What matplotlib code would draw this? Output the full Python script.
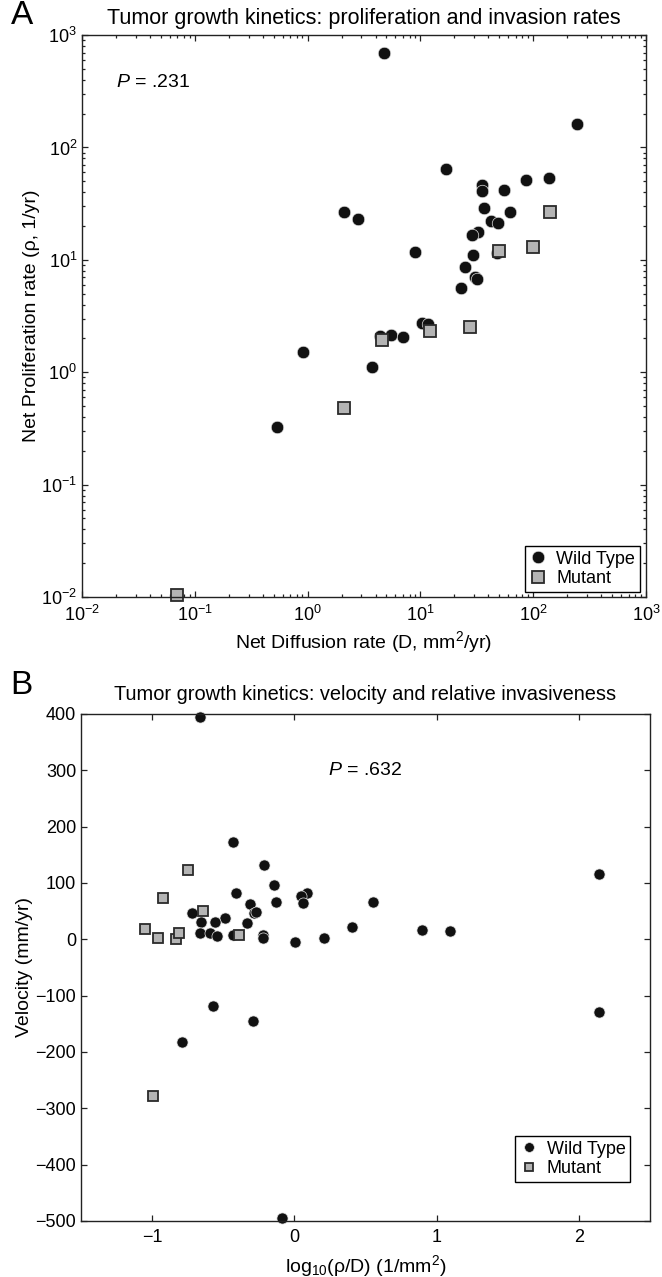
import matplotlib
matplotlib.use("Agg")
import matplotlib.pyplot as plt
from matplotlib.lines import Line2D

plt.rcParams['font.family'] = ['Liberation Sans', 'DejaVu Sans']
plt.rcParams['mathtext.fontset'] = 'custom'
plt.rcParams['mathtext.rm'] = 'Liberation Sans'
plt.rcParams['mathtext.it'] = 'Liberation Sans:italic'
plt.rcParams['axes.unicode_minus'] = True

# Panel A: net diffusion (D, mm^2/yr) vs net proliferation (rho, 1/yr)
wt_D = [244, 4.75, 16.7, 35.4, 35.4, 55.5, 85.7, 137, 2.09, 2.78, 36.6, 62.6,
        42.3, 48.4, 32.6, 28.8, 9.0, 29.2, 47.4, 24.8, 30.7, 31.5, 22.9, 10.3,
        11.7, 4.36, 5.48, 7.05, 0.91, 3.75, 0.54]
wt_rho = [161, 687, 63.8, 46.6, 41.2, 41.5, 50.9, 53.8, 26.8, 22.9, 29.1, 26.5,
          22.0, 21.2, 17.8, 16.5, 11.7, 11.1, 11.4, 8.7, 6.98, 6.7, 5.65, 2.76,
          2.67, 2.10, 2.13, 2.05, 1.52, 1.12, 0.324]
mut_D = [141, 99, 50.1, 27.4, 12.1, 4.57, 2.10, 0.069]
mut_rho = [26.6, 13.0, 12.0, 2.54, 2.33, 1.93, 0.48, 0.0105]

# Panel B: log10(rho/D) vs velocity (mm/yr)
wt_ratio = [-0.43, -0.216, -0.146, -0.413, 0.09, 0.046, 0.06, 0.554, -0.128,
            -0.31, -0.282, -0.27, -0.72, -0.486, -0.659, -0.56, -0.33, -0.664,
            -0.594, -0.542, -0.434, -0.219, -0.219, 0.002, 0.208, 0.404, 0.896,
            1.093, -0.57, -0.291, -0.79, -0.667, -0.088, 2.14, 2.14]
wt_vel = [172, 132.5, 96, 81.8, 82, 77, 65, 66, 66, 62, 46, 49, 47, 37, 30, 30,
          29.5, 12, 12, 6, 8, 8, 2, -5, 3, 21, 16.6, 15, -118, -145, -183, 395,
          -495, 116, -129.5]
mut_ratio = [-0.75, -0.924, -0.64, -0.388, -1.052, -0.961, -0.832, -0.813, -0.994]
mut_vel = [123, 72.9, 50, 7, 18, 3, 0.6, 12, -278]

circle_kw = dict(linestyle='none', marker='o', color='#111111',
                 markeredgecolor='#e0e0e0', markeredgewidth=0.5)
square_kw = dict(linestyle='none', marker='s', markerfacecolor='#b4b4b4',
                 markeredgecolor='#2a2a2a', markeredgewidth=1.3)

fig = plt.figure(figsize=(6.62, 12.77), dpi=100)

# ---- Panel A
axA = fig.add_axes([0.1239, 0.5325, 0.852, 0.440])
axA.plot(wt_D, wt_rho, markersize=9, clip_on=False, **circle_kw)
axA.plot(mut_D, mut_rho, markersize=8, clip_on=False, **square_kw)
axA.set_xscale('log')
axA.set_yscale('log')
axA.set_xlim(1e-2, 1e3)
axA.set_ylim(1e-2, 1e3)
axA.set_title('Tumor growth kinetics: proliferation and invasion rates',
              fontsize=15.5, pad=8)
axA.set_xlabel('Net Diffusion rate (D, mm$^2$/yr)', fontsize=14, labelpad=3)
axA.set_ylabel('Net Proliferation rate (\u03c1, 1/yr)', fontsize=14, labelpad=1)
axA.text(0.06, 0.915, '$P$ = .231', transform=axA.transAxes, fontsize=14,
         va='center', ha='left')

# ---- Panel B
axB = fig.add_axes([0.1224, 0.0439, 0.8595, 0.397])
axB.plot(wt_ratio, wt_vel, markersize=8, clip_on=False, **circle_kw)
axB.plot(mut_ratio, mut_vel, markersize=7, clip_on=False, **square_kw)
axB.set_xlim(-1.5, 2.5)
axB.set_ylim(-500, 400)
axB.set_xticks([-1, 0, 1, 2])
axB.set_yticks(range(-500, 401, 100))
axB.set_title('Tumor growth kinetics: velocity and relative invasiveness',
              fontsize=14.4, pad=10)
axB.set_xlabel('log$_{10}$(\u03c1/D) (1/mm$^2$)', fontsize=14, labelpad=5)
axB.set_ylabel('Velocity (mm/yr)', fontsize=14, labelpad=2)
axB.text(0.5, 300, '$P$ = .632', fontsize=14, ha='center', va='center')

for ax in (axA, axB):
    for s in ax.spines.values():
        s.set_linewidth(1.0)
        s.set_color('#222222')
    ax.tick_params(which='both', direction='in', top=True, right=True,
                   labelsize=13, width=0.9, color='#222222')
    ax.tick_params(which='major', length=4)
    ax.tick_params(which='minor', length=2.5)
    ax.tick_params(axis='x', pad=6)

handles = [Line2D([], [], markersize=9, **circle_kw),
           Line2D([], [], markersize=8, **square_kw)]
legA = axA.legend(handles, ['Wild Type', 'Mutant'], loc='lower right',
                  bbox_to_anchor=(0.989, 0.009), fontsize=13, frameon=True,
                  fancybox=False, edgecolor='black', framealpha=1,
                  handlelength=1, handletextpad=0.5, borderpad=0.25,
                  labelspacing=0.15, borderaxespad=0)
legA.get_frame().set_linewidth(1.0)

handlesB = [Line2D([], [], markersize=7, **circle_kw),
            Line2D([], [], markersize=6, **square_kw)]
legB = axB.legend(handlesB, ['Wild Type', 'Mutant'], loc='lower right',
                  bbox_to_anchor=(0.965, 0.077), fontsize=13, frameon=True,
                  fancybox=False, edgecolor='black', framealpha=1,
                  handlelength=1, handletextpad=0.5, borderpad=0.25,
                  labelspacing=0.15, borderaxespad=0)
legB.get_frame().set_linewidth(1.0)

fig.text(0.034, 0.988, 'A', fontsize=24, ha='center', va='center')
fig.text(0.033, 0.463, 'B', fontsize=24, ha='center', va='center')

fig.savefig('out.png', dpi=100)
